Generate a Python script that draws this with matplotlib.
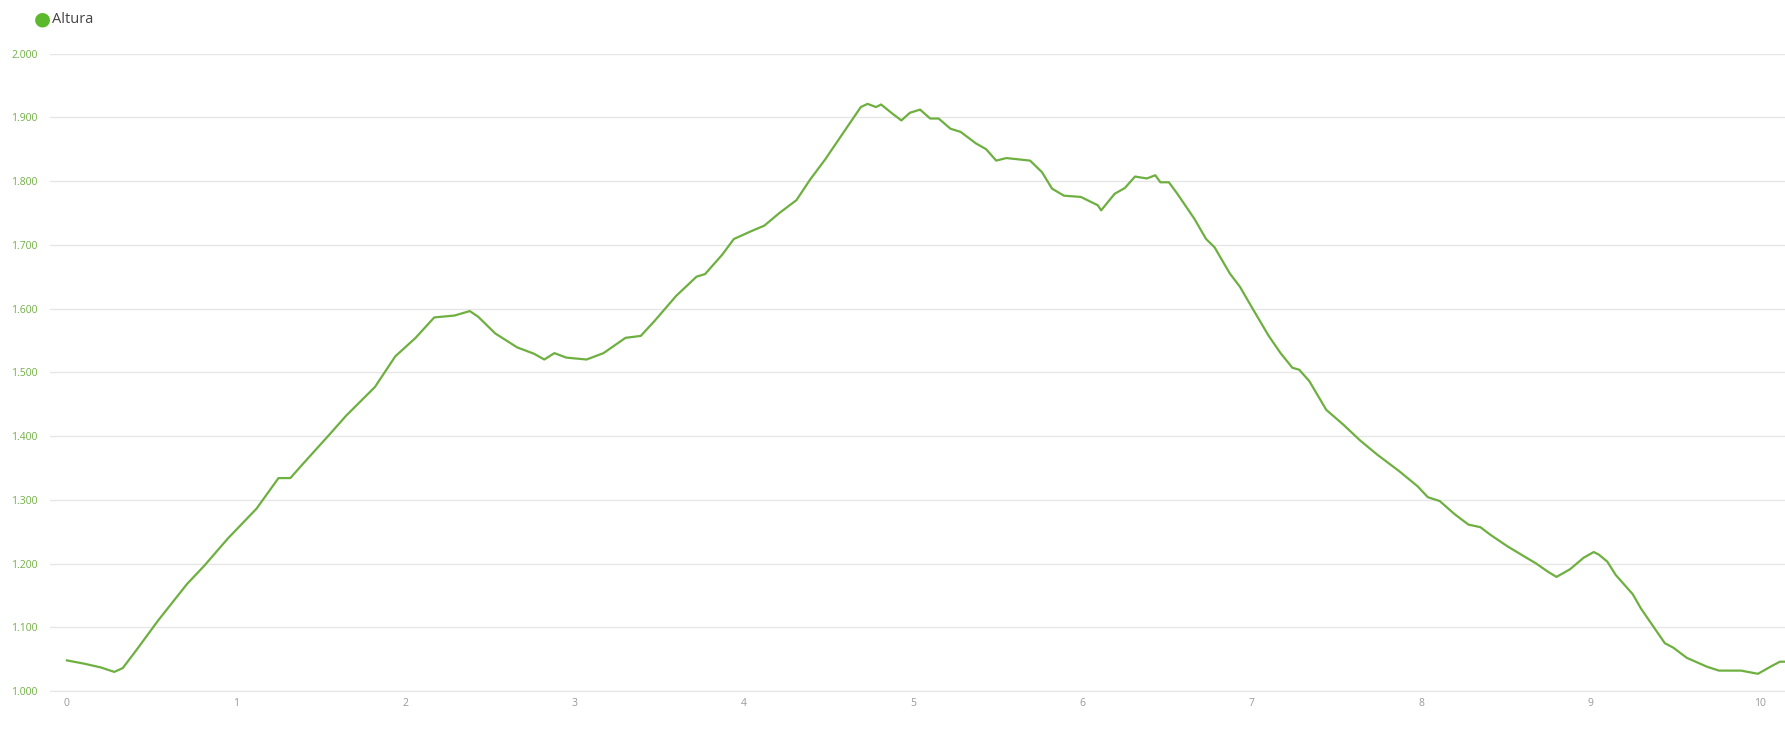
import matplotlib.pyplot as plt
from matplotlib.ticker import FuncFormatter

plt.rcParams['font.family'] = ['Open Sans', 'DejaVu Sans']

# perfil de altura (km, m)
dist_km = [0.00, 0.10, 0.20, 0.28, 0.33, 0.41, 0.54, 0.71, 0.81, 0.95, 1.12, 1.25, 1.32, 1.39,
           1.55, 1.65, 1.82, 1.94, 2.06, 2.17, 2.29, 2.38, 2.43, 2.53, 2.66, 2.76, 2.82, 2.88,
           2.95, 3.07, 3.17, 3.30, 3.39, 3.47, 3.60, 3.72, 3.77, 3.87, 3.94, 4.04, 4.12, 4.21,
           4.31, 4.39, 4.48, 4.59, 4.69, 4.73, 4.78, 4.81, 4.88, 4.93, 4.98, 5.04, 5.10, 5.15,
           5.22, 5.28, 5.37, 5.43, 5.49, 5.55, 5.69, 5.76, 5.82, 5.89, 5.99, 6.09, 6.11, 6.19,
           6.25, 6.31, 6.38, 6.43, 6.46, 6.51, 6.56, 6.66, 6.73, 6.78, 6.87, 6.93, 7.00, 7.10,
           7.17, 7.24, 7.28, 7.34, 7.44, 7.54, 7.64, 7.74, 7.87, 7.98, 8.04, 8.11, 8.20, 8.28,
           8.35, 8.41, 8.51, 8.61, 8.68, 8.75, 8.80, 8.88, 8.96, 9.02, 9.05, 9.10, 9.15, 9.21,
           9.25, 9.30, 9.37, 9.44, 9.49, 9.57, 9.69, 9.76, 9.89, 9.99, 10.07, 10.12, 10.16]
altura = [1048, 1043, 1037, 1030, 1036, 1064, 1111, 1168, 1196, 1239, 1286, 1334, 1334, 1355,
          1402, 1432, 1477, 1525, 1554, 1586, 1589, 1596, 1587, 1561, 1539, 1529, 1520, 1530,
          1523, 1520, 1530, 1554, 1557, 1580, 1620, 1650, 1654, 1684, 1709, 1721, 1730, 1750,
          1770, 1802, 1834, 1877, 1916, 1921, 1916, 1920, 1905, 1895, 1907, 1912, 1898, 1898,
          1882, 1877, 1859, 1850, 1832, 1836, 1832, 1814, 1788, 1777, 1775, 1762, 1754, 1780,
          1789, 1807, 1804, 1809, 1798, 1798, 1780, 1741, 1709, 1696, 1655, 1634, 1602, 1557,
          1530, 1507, 1504, 1486, 1441, 1418, 1393, 1371, 1345, 1321, 1304, 1298, 1277, 1261,
          1257, 1245, 1227, 1211, 1200, 1187, 1179, 1191, 1209, 1218, 1214, 1203, 1182, 1164,
          1152, 1129, 1102, 1075, 1068, 1052, 1038, 1032, 1032, 1027, 1039, 1046, 1046]

y_ticks = [1000, 1100, 1200, 1300, 1400, 1500, 1600, 1700, 1800, 1900, 2000]
x_ticks = list(range(0, 11))

fig = plt.figure(figsize=(17.85, 7.37), dpi=100)
ax = fig.add_axes([0.028, 0.0624, 0.972, 0.865])

ax.plot(dist_km, altura, color='#6eb040', linewidth=1.6)

ax.set_xlim(-0.1, 10.15)
ax.set_ylim(1000, 2000)
ax.set_yticks(y_ticks)
ax.set_xticks(x_ticks)
ax.yaxis.set_major_formatter(FuncFormatter(lambda v, p: f"{int(v):,}".replace(",", ".")))

ax.grid(axis='y', color='#e6e6e6', linewidth=1)
ax.set_axisbelow(True)
for s in ['top', 'right', 'left']:
    ax.spines[s].set_visible(False)
ax.spines['bottom'].set_color('#e6e6e6')

ax.tick_params(axis='y', length=0, pad=9, labelsize=7.5, labelcolor='#72b043')
ax.tick_params(axis='x', length=0, pad=5, labelsize=7.5, labelcolor='#999999')

# leyenda
fig.text(0.0235, 0.974, '\u25CF', color='#5cb82c', fontsize=14, va='center', ha='center',
         family='DejaVu Sans')
fig.text(0.029, 0.974, 'Altura', color='#444444', fontsize=10.5, va='center', ha='left')

fig.savefig('out.png', dpi=100)
